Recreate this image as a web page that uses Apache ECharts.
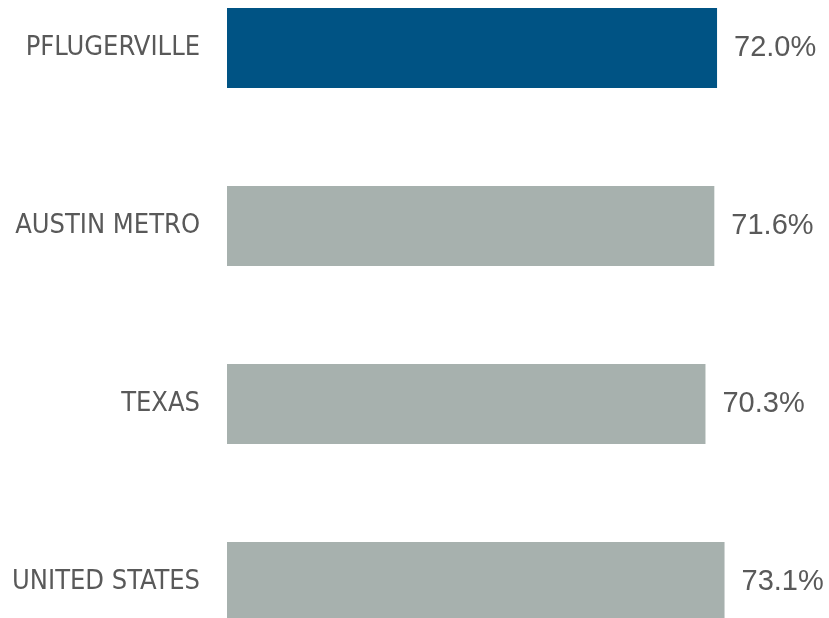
<!DOCTYPE html>
<html><head><meta charset="utf-8">
<script src="https://cdn.jsdelivr.net/npm/echarts@6/dist/echarts.min.js"></script>
<style>html,body{margin:0;padding:0;background:#fff}#c{width:829px;height:618px}</style>
</head><body><div id="c"></div>
<script>
const categories = ["PFLUGERVILLE", "AUSTIN METRO", "TEXAS", "UNITED STATES"];
const values = [72.0, 71.6, 70.3, 73.1];
const colors = ["#005384", "#a7b1ae", "#a7b1ae", "#a7b1ae"];

const chart = echarts.init(document.getElementById('c'));
chart.setOption({
  animation: false,
  grid: { left: 227, top: -41, width: 544.5, height: 712, containLabel: false, outerBoundsMode: 'none' },
  xAxis: { type: 'value', min: 0, max: 80, show: false },
  yAxis: {
    type: 'category', data: categories, inverse: true,
    axisLine: { show: false }, axisTick: { show: false },
    axisLabel: { color: '#595959', fontSize: 27, fontFamily: '"DejaVu Sans Condensed", "Liberation Sans", sans-serif', margin: 27 }
  },
  series: [{
    type: 'bar', barWidth: 80,
    data: values.map((v, i) => ({ value: v, itemStyle: { color: colors[i] } })),
    label: {
      show: true, position: 'right', distance: 17, color: '#595959', fontSize: 29, fontFamily: '"Liberation Sans", sans-serif',
      formatter: p => p.value.toFixed(1) + '%'
    }
  }]
});
</script></body></html>
